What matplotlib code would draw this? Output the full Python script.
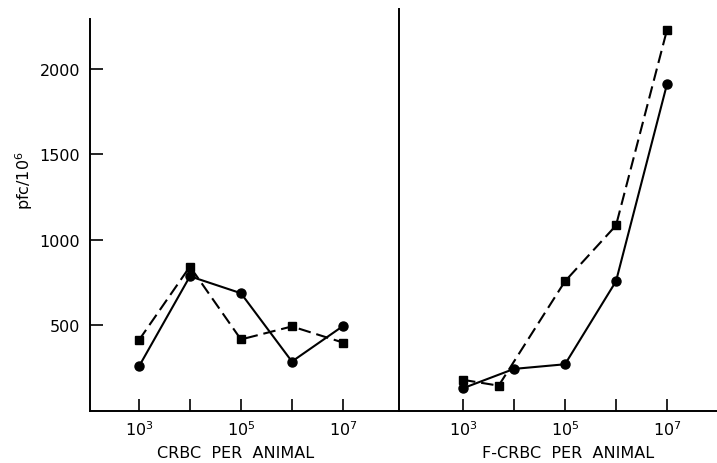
import matplotlib
matplotlib.use("Agg")
import matplotlib.pyplot as plt
import numpy as np

# Left panel: CRBC per animal
crbc_dose = [1e3, 1e4, 1e5, 1e6, 1e7]
crbc_circle = [260, 787, 688, 289, 496]
crbc_square = [414, 844, 418, 494, 400]

# Right panel: F-CRBC per animal
fcrbc_dose_circle = [1e3, 1e4, 1e5, 1e6, 1e7]
fcrbc_circle = [133, 246, 273, 758, 1910]
fcrbc_dose_square = [1e3, 5e3, 1e5, 1e6, 1e7]
fcrbc_square = [182, 148, 758, 1084, 2227]

yticks = [500, 1000, 1500, 2000]
xticks = [1e3, 1e4, 1e5, 1e6, 1e7]
xticklabels = [r'$10^3$', '', r'$10^5$', '', r'$10^7$']

plt.rcParams['font.family'] = ['DejaVu Sans']
plt.rcParams['mathtext.fontset'] = 'dejavusans'

W, H = 717, 464
fig = plt.figure(figsize=(W / 100, H / 100), dpi=100)

def fx(px):
    return px / W

def fy(py):
    return 1 - py / H

bottom_px = 412
axL = fig.add_axes([fx(90), fy(bottom_px), fx(399 - 90), (bottom_px - 20) / H])
axR = fig.add_axes([fx(399), fy(bottom_px), fx(717 - 399), (bottom_px - 10) / H])

lw = 1.5
dash = (0, (6, 2.8))
fs = 11.5

for ax, xc, yc, xs, ys in [
    (axL, crbc_dose, crbc_circle, crbc_dose, crbc_square),
    (axR, fcrbc_dose_circle, fcrbc_circle, fcrbc_dose_square, fcrbc_square),
]:
    ax.plot(xc, yc, color='black', lw=lw, marker='o', markersize=6.5,
            linestyle='-', clip_on=False)
    ax.plot(xs, ys, color='black', lw=lw, marker='s', markersize=6,
            linestyle=dash, clip_on=False)
    ax.set_xscale('log')
    ax.set_xticks(xticks)
    ax.set_xticklabels(xticklabels)
    ax.xaxis.set_minor_locator(matplotlib.ticker.NullLocator())
    ax.spines['top'].set_visible(False)
    ax.spines['right'].set_visible(False)
    for s in ['left', 'bottom']:
        ax.spines[s].set_linewidth(1.4)
    ax.tick_params(axis='x', direction='in', length=9, width=1.2,
                   labelsize=fs, pad=6)
    ax.set_facecolor('none')

axL.set_xlim(10 ** 2.04, 10 ** 8.1)
axR.set_xlim(10 ** 1.745, 10 ** 7.98)
axL.set_ylim(0, 2290)
axR.set_ylim(0, 2290 * (bottom_px - 10) / (bottom_px - 20))

axL.set_yticks(yticks)
axL.tick_params(axis='y', direction='in', length=9, width=1.2,
                labelsize=fs, pad=7)
axR.set_yticks([])

axL.set_ylabel(r'pfc/10$^6$', fontsize=fs)
axL.yaxis.set_label_coords((35 - 90) / 309, (bottom_px - 181) / 392)

axL.set_xlabel('CRBC  PER  ANIMAL', fontsize=fs)
axL.xaxis.set_label_coords((236 - 90) / 309, (bottom_px - 446) / 392)
axR.set_xlabel('F-CRBC  PER  ANIMAL', fontsize=fs)
axR.xaxis.set_label_coords((568 - 399) / 318, (bottom_px - 446) / 402)

fig.savefig('out.png', dpi=100)
